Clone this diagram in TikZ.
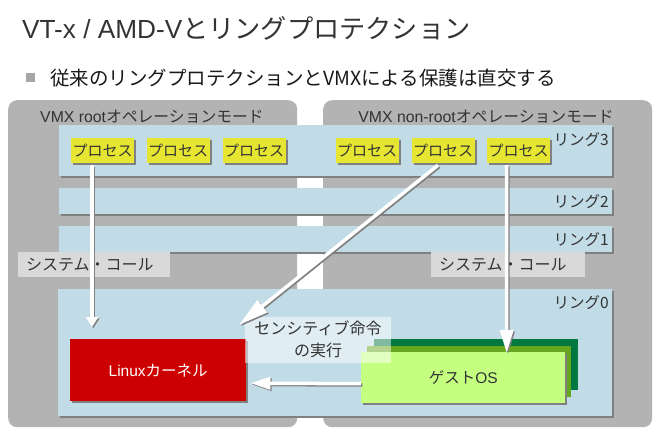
\documentclass[tikz,border=0pt]{standalone}
\usepackage{fontspec}
\setmainfont{Liberation Sans}
\newfontfamily\cjk{Noto Sans CJK JP}
\usetikzlibrary{arrows.meta,calc}
\definecolor{txt}{HTML}{333333}
\definecolor{panelc}{HTML}{B3B3B3}
\definecolor{bandc}{HTML}{C1DCE6}
\definecolor{shadowc}{HTML}{808080}
\definecolor{sysc}{HTML}{D9D9D9}
\definecolor{procy}{HTML}{E6E632}
\definecolor{linuxr}{HTML}{CC0000}
\definecolor{gl}{HTML}{C4FF80}
\definecolor{gm}{HTML}{66A61E}
\definecolor{gd}{HTML}{00783F}
\definecolor{bulletc}{HTML}{A6A6A6}
\newcommand{\fs}[1]{\fontsize{#1}{#1}\selectfont}
\begin{document}
\begin{tikzpicture}[x=1pt,y=-1pt,
  shad/.style={preaction={fill=shadowc,transform canvas={shift={(2pt,-2pt)}}}},
  panelbox/.style={fill=panelc,rounded corners=9pt,draw=none,inner sep=0pt,anchor=north west},
  bandbox/.style={fill=bandc,shad,inner sep=0pt,anchor=north west},
  proc/.style={fill=procy,shad,inner sep=0pt,minimum width=63pt,minimum height=25pt,text=txt,font=\cjk\fs{15}},
  sysbox/.style={fill=sysc,inner sep=0pt,minimum width=152pt,minimum height=25pt,anchor=north west},
  systxt/.style={anchor=west,inner sep=0pt,text=txt,font=\cjk\fs{16}},
  ringlbl/.style={anchor=east,text=txt,font=\cjk\fs{15.5},inner sep=0pt},
  wline/.style={draw=white,line width=3.5pt},
  wshad/.style={draw=shadowc,line width=3.5pt},
]
\useasboundingbox (0,0) rectangle (661,436);
\fill[white] (0,0) rectangle (661,436);
% title
\node[anchor=base west,inner sep=0pt,text=txt,font=\fs{26.2}] (title) at (22,39) {VT-x / AMD-V{\cjk とリングプロテクション}};
\node[fill=bulletc,minimum size=9pt,inner sep=0pt] (bul) at (30,77.5) {};
\node[anchor=west,inner sep=0pt,text=black!90,font=\cjk\fs{19.5}] (sub) at (50,78) {従来のリングプロテクションとVMXによる保護は直交する};
% panels
\node[panelbox,minimum width=289pt,minimum height=327pt] (lp) at (8,100) {};
\node[panelbox,minimum width=329pt,minimum height=327pt] (rp) at (323,100) {};
\node[text=txt,font=\fs{15.8},inner sep=0pt] (lpl) at (152,117) {VMX root{\cjk オペレーションモード}};
\node[text=txt,font=\fs{15.8},inner sep=0pt] (rpl) at (486,117) {VMX non-root{\cjk オペレーションモード}};
% bands
\node[bandbox,minimum width=553pt,minimum height=51pt] (r3) at (59,125) {};
\node[bandbox,minimum width=553pt,minimum height=26pt] (r2) at (59,188) {};
\node[bandbox,minimum width=553pt,minimum height=26pt] (r1) at (59,226) {};
\node[bandbox,minimum width=554pt,minimum height=127pt] (r0) at (58,289) {};
\node[ringlbl] (l3) at (609,140) {リング3};
\node[ringlbl] (l2) at (609,202) {リング2};
\node[ringlbl] (l1) at (609,240) {リング1};
\node[ringlbl] (l0) at (609,303) {リング0};
% processes
\node[proc] (p1) at (102.5,150.5) {プロセス};
\node[proc] (p2) at (178,150.5) {プロセス};
\node[proc] (p3) at (254,150.5) {プロセス};
\node[proc] (p4) at (367,150.5) {プロセス};
\node[proc] (p5) at (443,150.5) {プロセス};
\node[proc] (p6) at (518.5,150.5) {プロセス};
% system call label boxes
\node[sysbox] (s1) at (18,252) {};
\node[sysbox,minimum width=154pt] (s2) at (431,252) {};
% linux kernel
\node[fill=linuxr,shad,minimum width=176pt,minimum height=62pt,inner sep=0pt,anchor=north west,text=white,font=\fs{15.5}] (lin) at (70,339) {Linux{\cjk カーネル}};
% guest os stack
\node[fill=gd,minimum width=204pt,minimum height=51pt,inner sep=0pt,anchor=north west] (g3) at (374,339) {};
\node[fill=gm,minimum width=204pt,minimum height=51pt,inner sep=0pt,anchor=north west] (g2) at (367,346) {};
\node[fill=gl,shad,minimum width=204pt,minimum height=51pt,inner sep=0pt,anchor=north west,text=txt,font=\fs{15.5}] (g1) at (361,352) {{\cjk ゲスト}OS};
% sensitive label
\node[fill=white,fill opacity=0.5,text opacity=1,minimum width=146pt,minimum height=46pt,inner sep=0pt,anchor=north west] (sens) at (245,317) {};
\node[align=center,text=txt,font=\cjk\fs{16},inner sep=0pt] (senst) at (318,339) {\fs{16}センシティブ命令\\[6pt]\fs{16}の実行};
% arrow end coordinates
\coordinate (a1s) at ($(p1.south)+(-10.5,2)$);
\coordinate (a1e) at (92,327);
\coordinate (a2s) at ($(p5.south)+(-5,2)$);
\coordinate (a2e) at (239,325);
\coordinate (a3s) at ($(p6.south)+(-12,2)$);
\coordinate (a3e) at ($(g1.north)+(43.5,1)$);
\coordinate (a4s) at ($(g1.west)+(0,6)$);
\coordinate (a4e) at ($(lin.east)+(4,13)$);
% arrows (shadow then white)
\foreach \s/\e/\l/\w in {a1s/a1e/10/12,a2s/a2e/30/15,a3s/a3e/23/13,a4s/a4e/20/12}{
  \draw[wshad,-{Triangle[length=\l pt,width=\w pt]},transform canvas={shift={(1.3pt,-1.3pt)}}] (\s) -- (\e);
  \draw[wline,-{Triangle[length=\l pt,width=\w pt]},fill=white] (\s) -- (\e);
}
% system call texts
\node[systxt] (s1t) at (26,265) {システム・コール};
\node[systxt] (s2t) at (439,265) {システム・コール};
\end{tikzpicture}
\end{document}
